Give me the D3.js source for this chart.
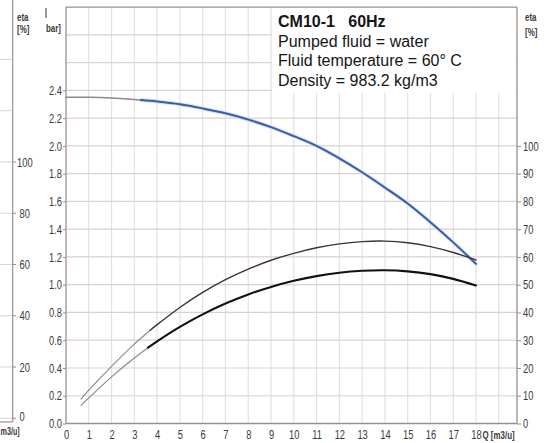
<!DOCTYPE html>
<html>
<head>
<meta charset="utf-8">
<script src="https://cdn.jsdelivr.net/npm/d3@7/dist/d3.min.js"></script>
<style>
  html, body { margin: 0; padding: 0; background: #fff; }
  svg { display: block; }
  .tick text { font-family: "Liberation Sans", Arial, sans-serif; font-size: 13px; fill: #3a3a3a; }
  .lbl { font-family: "Liberation Sans", Arial, sans-serif; fill: #3a3a3a; font-weight: bold; }
  .num { font-family: "Liberation Sans", Arial, sans-serif; fill: #3a3a3a; font-size: 13px; }
  .info { font-family: "Liberation Sans", Arial, sans-serif; font-size: 16px; fill: #151515; white-space: pre; }
</style>
</head>
<body>
<svg id="chart" width="548" height="443"></svg>
<script>
// ---------------- data ----------------
const title = "CM10-1   60Hz";
const infoLines = ["Pumped fluid = water", "Fluid temperature = 60\u00B0 C", "Density = 983.2 kg/m3"];

const qTicks = [0,1,2,3,4,5,6,7,8,9,10,11,12,13,14,15,16,17,18];
const barTicks = [0.0,0.2,0.4,0.6,0.8,1.0,1.2,1.4,1.6,1.8,2.0,2.2,2.4];
const etaTicks = [0,10,20,30,40,50,60,70,80,90,100];
const etaLeftTicks = [0,20,40,60,80,100];

// head curve H [bar] vs Q [m3/h]
const headQ = [0,1,2,3,3.3,4,5,6,7,8,9,10,11,12,13,14,15,16,17,18];
const headH = [2.35,2.35,2.345,2.335,2.33,2.32,2.30,2.27,2.235,2.19,2.135,2.07,2.0,1.91,1.81,1.70,1.585,1.45,1.305,1.15];
const headBreak = 3.3;

// efficiency curves [%] vs Q
const etaAQ = [0.66,1,2,3,3.7,4,5,6,7,8,9,10,11,12,13,14,15,16,17,18];
const etaA  = [8.8,12.0,20.6,28.6,33.6,35.6,41.8,47.2,51.8,55.6,58.8,61.3,63.3,64.7,65.5,65.7,65.1,63.7,61.6,58.9];
const etaABreak = 3.7;
const etaBQ = [0.66,1,2,3,3.6,4,5,6,7,8,9,10,11,12,13,14,15,16,17,18];
const etaB  = [6.5,9.2,16.8,23.6,27.3,29.6,34.8,39.3,43.2,46.5,49.2,51.4,53.1,54.3,55.0,55.2,54.8,53.8,52.1,49.7];
const etaBBreak = 3.6;

// ---------------- layout ----------------
const svg = d3.select("#chart");
const L = 66, R = 517, T = 7.1, B = 423.5;
const SX = 0.72; // horizontal squeeze of the condensed labels

const x = d3.scaleLinear().domain([0, 19.8]).range([L, R]);
const yBar = d3.scaleLinear().domain([0, 3]).range([B, T]);
const yEta = d3.scaleLinear().domain([0, 150]).range([B, T]);
const yEtaL = d3.scaleLinear().domain([0, 100]).range([418.3, 162]);

function narrowText(g, px, py, str, size, anchor, bold) {
  return g.append("text").attr("class", bold ? "lbl" : "num")
    .attr("transform", `translate(${px},${py}) scale(${SX},1)`)
    .attr("text-anchor", anchor || "start")
    .style("font-size", size + "px").text(str);
}

// left neighbour panel fragments
const gl = svg.append("g");
d3.range(0, 160, 20).forEach(v => {
  gl.append("line").attr("x1", 0).attr("x2", 13).attr("y1", yEtaL(v)).attr("y2", yEtaL(v))
    .attr("stroke", "#ddd3d0").attr("stroke-width", 1);
});
gl.append("line").attr("x1", 12.7).attr("x2", 12.7).attr("y1", 0).attr("y2", 422).attr("stroke", "#9a8f8c").attr("stroke-width", 1.2);
gl.append("line").attr("x1", 0).attr("x2", 12.7).attr("y1", 422).attr("y2", 422).attr("stroke", "#9a8f8c").attr("stroke-width", 1.2);
etaLeftTicks.forEach(v => {
  gl.append("line").attr("x1", 12.7).attr("x2", 16).attr("y1", yEtaL(v)).attr("y2", yEtaL(v)).attr("stroke", "#9a8f8c");
  narrowText(gl, v === 100 ? 17 : 19.5, yEtaL(v) + (v === 0 ? 2.5 : 4.5), v, 13, "start", false);
});
narrowText(gl, 17, 21, "eta", 11, "start", true);
narrowText(gl, 17, 33, "[%]", 11, "start", true);
narrowText(gl, 0.5, 435, "m3/u]", 10, "start", true);
gl.append("line").attr("x1", 46).attr("x2", 46).attr("y1", 8).attr("y2", 18).attr("stroke", "#555").attr("stroke-width", 1.2);
narrowText(gl, 46, 32, "bar]", 11, "start", true);

// grid
const grid = svg.append("g");
d3.range(1, 20).forEach(q => {
  grid.append("line").attr("x1", x(q)).attr("x2", x(q)).attr("y1", T).attr("y2", B)
    .attr("stroke", "#e5e0e0").attr("stroke-width", 1.2);
});
d3.range(1, 15).map(i => i * 0.2).forEach(v => {
  grid.append("line").attr("x1", L).attr("x2", R).attr("y1", yBar(v)).attr("y2", yBar(v))
    .attr("stroke", "#dcd0cd").attr("stroke-width", 1.2);
});

// info box (covers grid)
svg.append("rect").attr("x", 272).attr("y", T + 0.8).attr("width", R - 272 - 0.6).attr("height", 85).attr("fill", "#fff");

// frame
const frame = svg.append("g").attr("stroke", "#9a8f8c").attr("stroke-width", 1.3);
frame.append("line").attr("x1", L).attr("x2", R).attr("y1", T).attr("y2", T);
frame.append("line").attr("x1", R).attr("x2", R).attr("y1", T).attr("y2", B);
frame.append("line").attr("x1", L).attr("x2", L).attr("y1", T).attr("y2", B);
frame.append("line").attr("x1", L).attr("x2", R).attr("y1", B).attr("y2", B);

// axes
const axL = svg.append("g").attr("transform", `translate(${L},0)`)
  .call(d3.axisLeft(yBar).tickValues(barTicks).tickFormat(d3.format(".1f")).tickSize(3).tickPadding(1));
const axR = svg.append("g").attr("transform", `translate(${R},0)`)
  .call(d3.axisRight(yEta).tickValues(etaTicks).tickSize(4).tickPadding(2));
const axB = svg.append("g").attr("transform", `translate(0,${B})`)
  .call(d3.axisBottom(x).tickValues(qTicks).tickSize(0).tickPadding(6.5));
[axL, axR, axB].forEach(a => {
  a.select(".domain").remove();
  a.selectAll(".tick line").attr("stroke", "#9a8f8c");
  a.selectAll(".tick text").attr("fill", "#3a3a3a").each(function () {
    const t = d3.select(this);
    const xx = +t.attr("x") || 0;
    t.attr("x", xx / SX).attr("transform", `scale(${SX},1)`);
  });
});

narrowText(svg, 482.5, 439, "Q [m3/u]", 11, "start", true);
narrowText(svg, 525, 21, "eta", 11, "start", true);
narrowText(svg, 525, 36, "[%]", 11, "start", true);

// info text
svg.append("text").attr("class", "info").attr("x", 278).attr("y", 26.5).style("font-weight", "bold").text(title);
infoLines.forEach((t, i) => {
  svg.append("text").attr("class", "info").attr("x", 278).attr("y", 46.5 + i * 19.6).text(t);
});

// curves
function draw(qs, vs, yScale, filterFn, color, width) {
  const pts = qs.map((q, i) => [q, vs[i]]).filter(filterFn);
  const line = d3.line().x(d => x(d[0])).y(d => yScale(d[1])).curve(d3.curveCatmullRom.alpha(0.5));
  svg.append("path").datum(pts).attr("d", line).attr("fill", "none")
    .attr("stroke", color).attr("stroke-width", width).attr("stroke-linecap", "round");
}
draw(headQ, headH, yBar, d => d[0] >= headBreak, "#d3e3f4", 4);
draw(headQ, headH, yBar, d => d[0] <= headBreak, "#8a8a90", 1.5);
draw(headQ, headH, yBar, d => d[0] >= headBreak, "#3b5ba6", 2);

draw(etaAQ, etaA, yEta, d => d[0] <= etaABreak, "#8c8686", 1.1);
draw(etaAQ, etaA, yEta, d => d[0] >= etaABreak, "#3c3434", 1.4);
draw(etaBQ, etaB, yEta, d => d[0] <= etaBBreak, "#8c8686", 1.1);
draw(etaBQ, etaB, yEta, d => d[0] >= etaBBreak, "#111", 2.1);
</script>
</body>
</html>
